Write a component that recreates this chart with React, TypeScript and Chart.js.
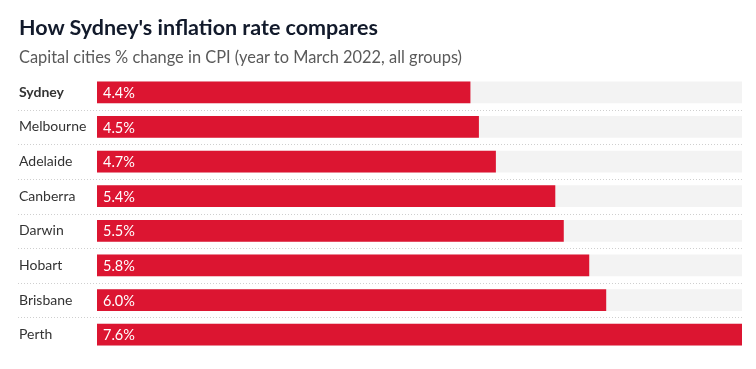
import React, { useEffect, useRef } from "react";
import { Chart, registerables } from "chart.js";

Chart.register(...registerables);

const cities = ["Sydney", "Melbourne", "Adelaide", "Canberra", "Darwin", "Hobart", "Brisbane", "Perth"];
const cpiChange = [4.4, 4.5, 4.7, 5.4, 5.5, 5.8, 6.0, 7.6];
const valueLabels = ["4.4%", "4.5%", "4.7%", "5.4%", "5.5%", "5.8%", "6.0%", "7.6%"];
const highlightCity = "Sydney";

const FONT = "Lato, 'Noto Sans', sans-serif";
const RED = "#dc1531";
const TRACK = "#f3f3f3";

const maxValue = Math.max(...cpiChange);
const track = cities.map(() => maxValue);

const valueLabelPlugin = {
  id: "valueLabels",
  afterDatasetsDraw(chart: any) {
    const meta = chart.getDatasetMeta(1);
    const ctx = chart.ctx;
    ctx.save();
    ctx.fillStyle = "#ffffff";
    ctx.font = `14.5px ${FONT}`;
    ctx.textAlign = "left";
    ctx.textBaseline = "middle";
    meta.data.forEach((bar: any, i: number) => {
      ctx.fillText(valueLabels[i], bar.base + 6, bar.y + 1);
    });
    ctx.restore();
  },
};

const separatorPlugin = {
  id: "separators",
  beforeDatasetsDraw(chart: any) {
    const y = chart.scales.y;
    const ctx = chart.ctx;
    const left = y.left - 1;
    const right = chart.chartArea.right + 1;
    ctx.save();
    ctx.strokeStyle = "#cfcfcf";
    ctx.lineWidth = 1;
    ctx.setLineDash([1, 2]);
    for (let i = 0; i < cities.length - 1; i++) {
      const yy = Math.round((y.getPixelForValue(i) + y.getPixelForValue(i + 1)) / 2) + 0.5;
      ctx.beginPath();
      ctx.moveTo(left, yy);
      ctx.lineTo(right, yy);
      ctx.stroke();
    }
    ctx.restore();
  },
};

export default function App() {
  const ref = useRef<HTMLCanvasElement | null>(null);

  useEffect(() => {
    if (!ref.current) return;
    const chart = new Chart(ref.current, {
      type: "bar",
      data: {
        labels: cities,
        datasets: [
          {
            data: track,
            backgroundColor: TRACK,
            grouped: false,
            order: 2,
            barPercentage: 0.63,
            categoryPercentage: 1,
          } as any,
          {
            data: cpiChange,
            backgroundColor: RED,
            grouped: false,
            order: 1,
            barPercentage: 0.63,
            categoryPercentage: 1,
          } as any,
        ],
      },
      options: {
        indexAxis: "y",
        animation: false,
        responsive: false,
        maintainAspectRatio: false,
        layout: { padding: { top: 67, bottom: 9, left: 11, right: 6 } },
        plugins: {
          legend: { display: false },
          tooltip: { enabled: false },
        },
        scales: {
          x: { display: false, min: 0, max: maxValue },
          y: {
            grid: { display: false },
            border: { display: false },
            afterFit: (scale: any) => {
              scale.width = 78;
            },
            ticks: {
              crossAlign: "far",
              color: "#333333",
              padding: 0,
              font: (c: any) => ({
                family: FONT,
                size: 14,
                weight: cities[c.index] === highlightCity ? "bold" : "normal",
              }),
            },
          },
        },
      },
      plugins: [valueLabelPlugin, separatorPlugin],
    });
    return () => chart.destroy();
  }, []);

  return (
    <div style={{ position: "relative", width: 740, height: 353 }}>
      <canvas ref={ref} width={740} height={353} style={{ position: "absolute", left: 0, top: 0 }} />
      <div
        style={{
          position: "absolute",
          left: 11,
          top: 6,
          fontFamily: FONT,
          fontWeight: "bold",
          fontSize: 21.5,
          lineHeight: "26px",
          color: "#121a2b",
          whiteSpace: "nowrap",
        }}
      >
        How Sydney's inflation rate compares
      </div>
      <div
        style={{
          position: "absolute",
          left: 11,
          top: 39,
          fontFamily: FONT,
          fontSize: 16.4,
          lineHeight: "20px",
          color: "#5a5a5a",
          whiteSpace: "nowrap",
        }}
      >
        Capital cities % change in CPI (year to March 2022, all groups)
      </div>
    </div>
  );
}
